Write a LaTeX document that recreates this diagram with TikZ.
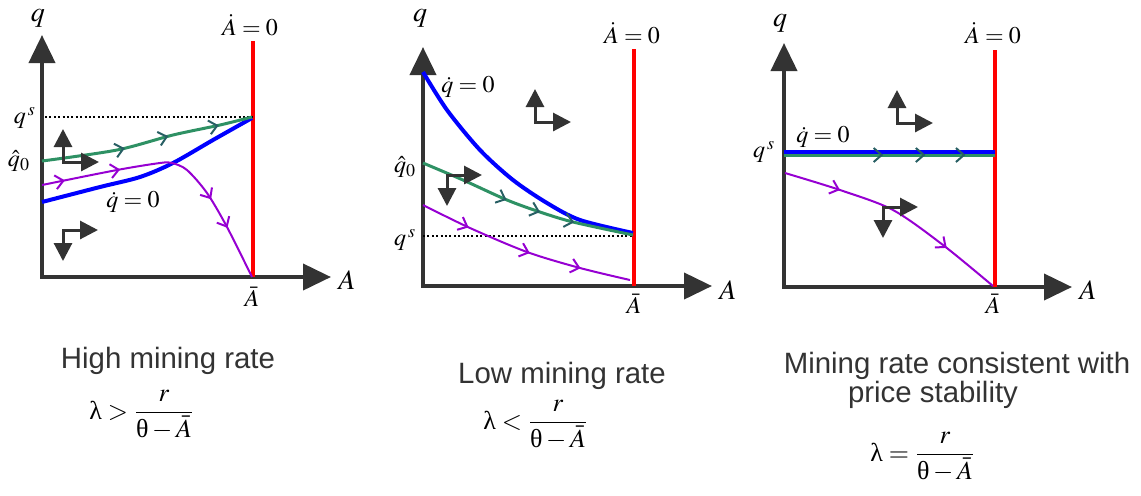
\documentclass[tikz,border=0pt]{standalone}
\usepackage{mathptmx}
\usepackage[no-math]{fontspec}
\setmainfont{Liberation Serif}
\setsansfont{Liberation Sans}
\usetikzlibrary{arrows.meta, decorations.markings}

\definecolor{axisgray}{RGB}{51,51,51}
\definecolor{nullred}{RGB}{255,0,0}
\definecolor{nullblue}{RGB}{0,0,255}
\definecolor{trajgreen}{RGB}{46,145,100}
\definecolor{chevgreen}{RGB}{40,95,100}
\definecolor{trajpurple}{RGB}{150,0,210}

\newcommand{\uplam}{\mbox{λ}}
\newcommand{\upth}{\mbox{θ}}

\tikzset{
  chev/.tip={Straight Barb[length=4pt, width=7pt, line width=1pt]},
  gchev/.tip={Straight Barb[length=4pt, width=7pt, line width=1pt, color=chevgreen]},
  /pgf/decoration/chevat/.style={mark=at position #1 with {\arrow{chev}}},
  /pgf/decoration/gchevat/.style={mark=at position #1 with {\arrow{gchev}}}
}

\begin{document}
\begin{tikzpicture}[x=0.5pt, y=-0.5pt,
    axis/.style={draw=axisgray, line width=2pt, arrows={Triangle[length=14pt,width=13pt]-Triangle[length=14pt,width=13pt]}},
    dirarr/.style={draw=axisgray, line width=1.5pt, arrows={Triangle[length=9pt,width=9pt]-Triangle[length=9pt,width=9pt]}},
    nullA/.style={draw=nullred, line width=2pt},
    nullq/.style={draw=nullblue, line width=2pt},
    saddle/.style={draw=trajgreen, line width=1.5pt, postaction={decorate}},
    traj/.style={draw=trajpurple, line width=1pt, postaction={decorate}},
    steady/.style={draw=black, line width=0.9pt, dash pattern=on 1pt off 1.2pt},
    lab/.style={inner sep=0pt, font=\fontsize{12}{14}\selectfont},
    axlab/.style={inner sep=0pt, font=\fontsize{14}{16}\selectfont},
    capt/.style={inner sep=0pt, anchor=base, text=axisgray, font=\sffamily\fontsize{14.7}{17}\selectfont},
    ratio/.style={inner sep=0pt, anchor=west, font=\fontsize{13}{15}\selectfont}]
  \useasboundingbox (0,0) rectangle (1141,495);

  % axes of the three panels
  \draw[axis] (42,35) -- (42,277) -- (331,277);
  \draw[axis] (423,47) -- (423,286) -- (712,286);
  \draw[axis] (784,43) -- (784,287) -- (1072,287);

  % A-dot = 0 loci
  \draw[nullA] (253,41) -- (253,277);
  \draw[nullA] (634,49) -- (634,286);
  \draw[nullA] (995,50) -- (995,287);

  % steady state price levels
  \draw[steady] (45,117) -- (253,117);
  \draw[steady] (423,236) -- (634,236);

  % panel 1: high mining rate
  \draw[nullq] plot[smooth] coordinates {(42,202) (100,187) (140,177) (173,163) (213,140) (252,118)};
  \draw[saddle, decoration={markings, gchevat/.list={0.39,0.6,0.84}}]
    plot[smooth] coordinates {(42,161) (117,150) (173,135) (220,125) (252,117)};
  \draw[traj, decoration={markings, chevat/.list={0.085,0.29,0.68,0.8}}]
    plot[smooth] coordinates {(42,185) (117,170) (160,163) (172,163) (187,170) (207,193) (227,227) (252,277)};

  % panel 2: low mining rate
  \draw[nullq] plot[smooth] coordinates {(423,72) (447,110) (480,150) (513,180) (547,203) (580,220) (633,233)};
  \draw[saddle, decoration={markings, gchevat/.list={0.41,0.57,0.73}}]
    plot[smooth] coordinates {(423,163) (463,180) (507,200) (540,212) (573,222) (633,235)};
  \draw[traj, decoration={markings, chevat/.list={0.23,0.53,0.77}}]
    plot[smooth] coordinates {(423,205) (470,228) (527,252) (580,268) (630,280)};

  % panel 3: price stability
  \draw[nullq] (784,152) -- (995,152);
  \draw[saddle, decoration={markings, gchevat/.list={0.47,0.67,0.86}}] (784,155) -- (995,155);
  \draw[traj, decoration={markings, chevat/.list={0.24,0.75}}]
    plot[smooth] coordinates {(785,173) (840,190) (893,210) (943,245) (993,286)};

  % direction of motion
  \foreach \cx/\cy in {63/162, 535/122, 897/123}
    \draw[dirarr] (\cx,\cy-33) -- (\cx,\cy) -- (\cx+36,\cy);
  \foreach \cx/\cy in {63/230, 447/175, 883/207}
    \draw[dirarr] (\cx,\cy+31) -- (\cx,\cy) -- (\cx+35,\cy);

  % labels
  \node[axlab] (q1) at (38,18) {$q$};
  \node[axlab] (A1) at (347,280) {$A$};
  \node[lab] (Ad1) at (250,25) {$\dot{A}=0$};
  \node[lab] (Ab1) at (252,297) {$\bar{A}$};
  \node[lab] (qs1) at (25,118) {$q^{\,s}$};
  \node[lab] (qh1) at (19,161) {$\hat{q}_0$};
  \node[lab] (qd1) at (133,202) {$\dot{q}=0$};

  \node[axlab] (q2) at (420,18) {$q$};
  \node[axlab] (A2) at (728,290) {$A$};
  \node[lab] (Ad2) at (632,33) {$\dot{A}=0$};
  \node[lab] (Ab2) at (634,304) {$\bar{A}$};
  \node[lab] (qs2) at (405,240) {$q^{\,s}$};
  \node[lab] (qh2) at (405,167) {$\hat{q}_0$};
  \node[lab] (qd2) at (468,87) {$\dot{q}=0$};

  \node[axlab] (q3) at (780,23) {$q$};
  \node[axlab] (A3) at (1088,290) {$A$};
  \node[lab] (Ad3) at (993,33) {$\dot{A}=0$};
  \node[lab] (Ab3) at (993,304) {$\bar{A}$};
  \node[lab] (qs3) at (764,152) {$q^{\,s}$};
  \node[lab] (qd3) at (823,137) {$\dot{q}=0$};

  % captions
  \node[capt] (cap1) at (168,368) {High mining rate};
  \node[ratio] (lam1) at (89,415) {$\uplam>\displaystyle\frac{r}{\upth-\bar{A}}$};
  \node[capt] (cap2) at (562,383) {Low mining rate};
  \node[ratio] (lam2) at (483,425) {$\uplam<\displaystyle\frac{r}{\upth-\bar{A}}$};
  \node[capt] (cap3a) at (957,373) {Mining rate consistent with};
  \node[capt] (cap3b) at (933,402) {price stability};
  \node[ratio] (lam3) at (870,457) {$\uplam=\displaystyle\frac{r}{\upth-\bar{A}}$};
\end{tikzpicture}
\end{document}
